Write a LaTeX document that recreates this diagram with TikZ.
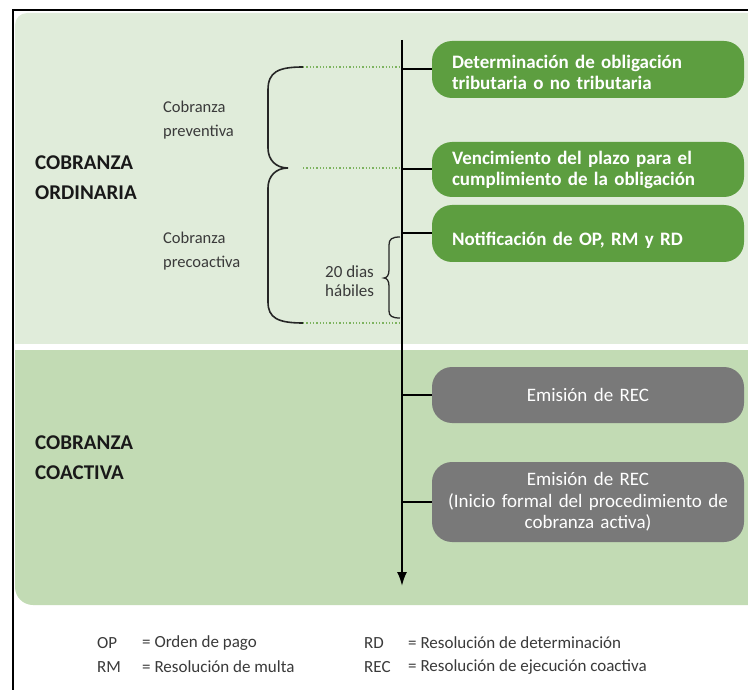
\documentclass[tikz,border=0pt]{standalone}
\usepackage{fontspec}
\setmainfont{Carlito}
\usetikzlibrary{arrows.meta}
\definecolor{paneltop}{HTML}{E0ECDA}
\definecolor{panelbot}{HTML}{C2DBB4}
\definecolor{boxgreen}{HTML}{5D9E40}
\definecolor{boxgray}{HTML}{797979}
\definecolor{dotgreen}{HTML}{7DB35F}
\definecolor{labelgray}{HTML}{3A3A3A}
\newcommand{\lowerby}[2]{\raisebox{-#1}[\height][\depth]{#2}}
\tikzset{
  gbox/.style={fill=boxgreen, rounded corners=20pt, minimum width=312pt, text=white,
    font=\bfseries\fontsize{19}{21}\selectfont, align=left, text width=272pt, inner xsep=19pt, inner ysep=0pt},
  graybox/.style={fill=boxgray, rounded corners=20pt, minimum width=312pt, text=white,
    font=\fontsize{19}{21.5}\selectfont, align=center, text width=300pt, inner xsep=6pt, inner ysep=0pt},
  conn/.style={line width=2pt, black},
  dotline/.style={dotgreen, line width=1.3pt, dotted},
  bracestyle/.style={line width=1.6pt, black!85},
  sublabel/.style={anchor=west, inner sep=0pt, align=left, text=labelgray, font=\fontsize{16.5}{24}\selectfont},
  biglabel/.style={anchor=west, inner sep=0pt, align=left, text=black!90, font=\bfseries\fontsize{21}{30}\selectfont},
  legend/.style={anchor=west, inner sep=0pt, text=labelgray, font=\fontsize{17}{24}\selectfont}
}
\begin{document}
\begin{tikzpicture}[x=1pt,y=-1pt]
\useasboundingbox (0,0) rectangle (748,690);
\fill[white] (0,0) rectangle (748,690);
% panels
\begin{scope}
  \clip (0,0) rectangle (748,343);
  \fill[paneltop, rounded corners=12pt] (15,13) rectangle (800,400);
\end{scope}
\begin{scope}
  \clip (0,350) rectangle (748,605);
  \fill[panelbot, rounded corners=18pt] (15,300) rectangle (800,605);
\end{scope}
% border
\draw[line width=2.5pt, black] (13,690) -- (13,10) -- (748,10);
% timeline
\coordinate (top) at (402,40);
\coordinate (bot) at (402,586);
\draw[line width=2pt, -{Latex[length=14pt,width=10pt]}] (top) -- (bot);
% boxes
\node[gbox, minimum height=57pt] (b1) at (588,69.5) {\lowerby{3pt}{Determinación de obligación}\\\lowerby{3pt}{tributaria o no tributaria}};
\node[gbox, minimum height=55pt] (b2) at (588,169.5) {Vencimiento del plazo para el\\cumplimiento de la obligación};
\node[gbox, minimum height=57pt] (b3) at (588,233.5) {\lowerby{7pt}{Notificación de OP, RM y RD}};
\node[graybox, minimum height=56pt] (g1) at (588,395) {Emisión de REC};
\node[graybox, minimum height=80pt] (g2) at (588,502) {Emisión de REC\\(Inicio formal del procedimiento de\\cobranza activa)};
% connectors
\foreach \n in {b1,b2,b3,g1,g2}{
  \draw[conn] (\n.west) -- (\n.west -| top);
}
% dotted guides
\coordinate (d1a) at (303,67);  \coordinate (d1b) at (401,67);
\coordinate (d2a) at (303,168); \coordinate (d2b) at (401,168);
\coordinate (d3a) at (303,323); \coordinate (d3b) at (401,323);
\draw[dotline] (d1a) -- (d1b);
\draw[dotline] (d2a) -- (d2b);
\draw[dotline] (d3a) -- (d3b);
% big braces
\draw[bracestyle] (d1a) .. controls (278,67) and (268,72) .. (268,90) -- (268,148)
  .. controls (268,160) and (276,168) .. (288,168)
  .. controls (276,168) and (268,176) .. (268,188) -- (268,302)
  .. controls (268,318) and (278,323) .. (d3a);
% small brace
\draw[line width=1.3pt, black!85] (400,237) .. controls (392,237) and (389,239) .. (389,245) -- (389,270)
  .. controls (389,275) and (387,278) .. (384,278)
  .. controls (387,278) and (389,281) .. (389,286) -- (389,311)
  .. controls (389,316) and (392,318) .. (400,318);
\node[sublabel, font=\fontsize{17}{19}\selectfont] (dias) at (325,281) {20 dias\\hábiles};
% labels
\node[sublabel] (prev) at (163,120) {Cobranza\\preventiva};
\node[sublabel] (prec) at (163,251.5) {Cobranza\\precoactiva};
\node[biglabel] (ord) at (35,178) {COBRANZA\\ORDINARIA};
\node[biglabel] (coa) at (35,458) {COBRANZA\\COACTIVA};
% legend
\node[legend] (l1) at (97,643) {OP};
\node[legend] (l1e) at (142,643) {= Orden de pago};
\node[legend] (l2) at (97,667) {RM};
\node[legend] (l2e) at (142,667) {= Resolución de multa};
\node[legend] (l3) at (364,643) {RD};
\node[legend] (l3e) at (408,643) {= Resolución de determinación};
\node[legend] (l4) at (364,667) {REC};
\node[legend] (l4e) at (408,667) {= Resolución de ejecución coactiva};
\end{tikzpicture}
\end{document}
